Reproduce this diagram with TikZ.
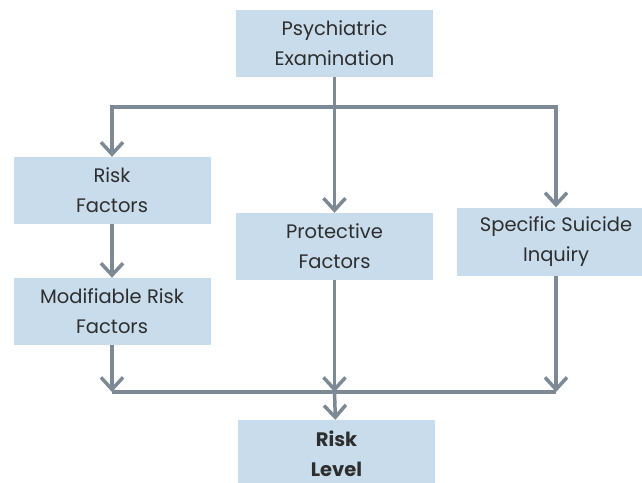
\documentclass[tikz,border=0pt]{standalone}
\usepackage{fontspec}
\setmainfont{Poppins}
\usetikzlibrary{positioning,arrows.meta}
\definecolor{boxfill}{HTML}{C8DCEB}
\definecolor{linegray}{HTML}{7D8A95}
\definecolor{textgray}{HTML}{2E2E2E}

\begin{document}
\begin{tikzpicture}%
		[x=1pt, y=-1pt,
		>={Straight Barb[length=12pt,width=22pt]},
		on grid,
		font=\fontsize{19.5pt}{30pt}\selectfont
		]
		\tikzset{
			b/.style={rectangle, fill=boxfill, text=textgray, minimum width=197pt, minimum height=67pt, align=center, inner sep=0pt},
			link/.style={draw=linegray, line width=3.5pt}
		}
		\useasboundingbox (0,0) rectangle (642,482);
		\node[b] (Exam) at (334.5,43.5) {Psychiatric\\Examination};
		\node[b] (Protective) [below=203pt of Exam] {Protective\\Factors};
		\node[b] (Risk) at (112,190.5) {Risk\\Factors};
		\node[b] (Modifiable) [below=121pt of Risk] {Modifiable Risk\\Factors};
		\node[b, minimum width=198pt, minimum height=68pt] (Inquiry) at (556,241.5) {Specific Suicide\\Inquiry};
		\node[b, minimum height=68pt] (Level) at (336.5,454) {\bfseries Risk\\\bfseries Level};

		\coordinate (split) at (Exam.south |- 0,107);
		\coordinate (merge) at (Protective.south |- 0,392);

		% branching from the examination
		\draw[link, ->] (Exam) -- (Protective);
		\draw[link, ->] (split) -| (Risk);
		\draw[link, ->] (split) -| (Inquiry);
		\draw[link, ->] (Risk) -- (Modifiable);

		% gathering into the risk level
		\draw[link, ->] (Modifiable) -- (Modifiable.south |- merge);
		\draw[link, ->] (Protective) -- (merge);
		\draw[link, ->] (Inquiry) -- (Inquiry.south |- merge);
		\draw[link] (Modifiable.south |- merge) -- (Inquiry.south |- merge);
		\draw[link, ->] (merge) -- (Level);
\end{tikzpicture}
\end{document}
